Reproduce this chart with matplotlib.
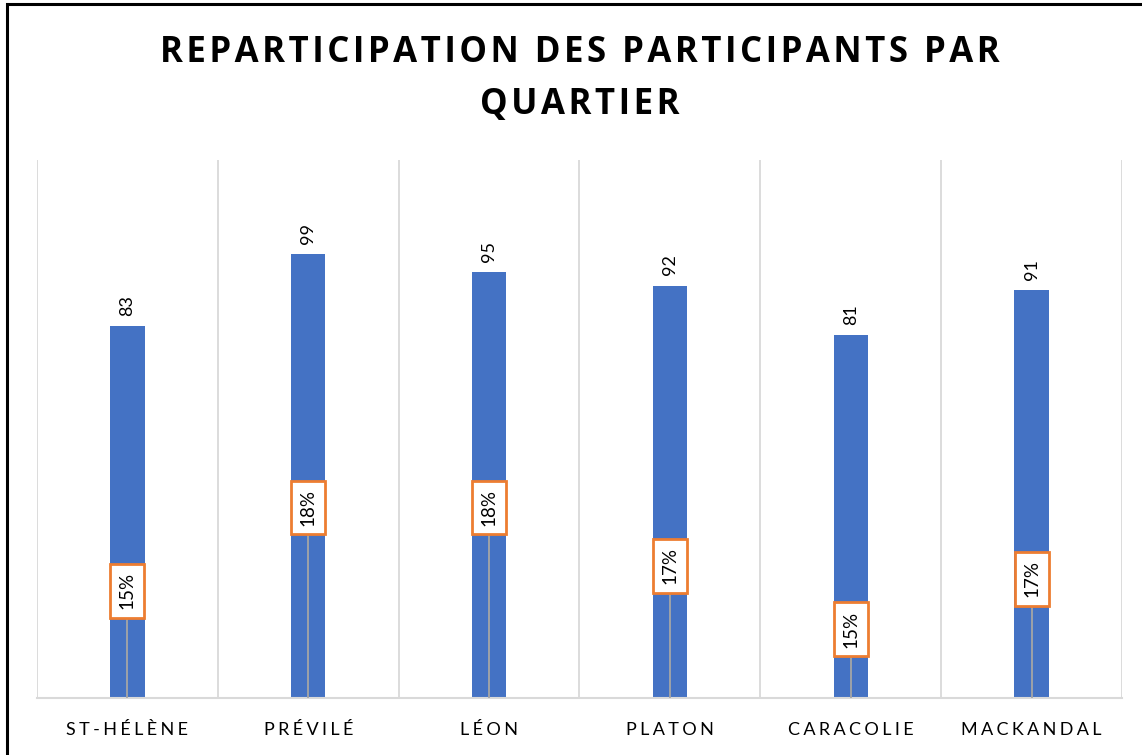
import matplotlib.pyplot as plt
from matplotlib.patches import Rectangle

quartiers = ["St-Hélène", "Prévilé", "Léon", "Platon", "Caracolie", "Mackandal"]
participants = [83, 99, 95, 92, 81, 91]
share_labels = ["15%", "18%", "18%", "17%", "15%", "17%"]
# height of the share marker (hidden point), in chart units
share_marker_y = [23.9, 42.5, 42.5, 29.5, 15.4, 26.6]

BLUE = "#4472C4"
ORANGE = "#ED7D31"
GRID = "#D9D9D9"
FONT = ["Lato", "DejaVu Sans"]


def spaced(s, sep="\u2009"):
    return sep.join(s.upper())


fig = plt.figure(figsize=(11.42, 7.55), dpi=100)
ax = fig.add_axes([37 / 1142, 1 - 698 / 755, 1085 / 1142, 538 / 755])

x = list(range(len(quartiers)))
ax.bar(x, participants, width=0.19, color=BLUE, zorder=2)

# value labels above bars
for xi, v in zip(x, participants):
    ax.text(xi, v + 2.3, str(v), rotation=90, ha="center", va="bottom",
            fontsize=13, family=FONT, color="#000000")

# drop lines + share labels
for xi, y, lab in zip(x, share_marker_y, share_labels):
    ax.plot([xi, xi], [0, y], color="#A5A5A5", lw=1.3, zorder=3)
    ax.text(xi, y, lab, rotation=90, ha="center", va="center", fontsize=13.5,
            family=FONT, zorder=4,
            bbox=dict(boxstyle="square,pad=0.45", fc="white", ec=ORANGE, lw=2))

ax.set_xlim(-0.5, len(quartiers) - 0.5)
ax.set_ylim(0, 120)

# category separators
for b in range(len(quartiers) + 1):
    ax.axvline(b - 0.5, color=GRID, lw=1.3, zorder=0)

for side in ["left", "right", "top"]:
    ax.spines[side].set_visible(False)
ax.spines["bottom"].set_color(GRID)
ax.spines["bottom"].set_linewidth(1.5)
ax.set_yticks([])
ax.set_xticks(x)
ax.set_xticklabels([spaced(q, "\u2009\u200a") for q in quartiers], fontsize=13,
                   family=FONT, color="#000000")
ax.tick_params(axis="x", length=0, pad=17)

title_font = ["Open Sans", "DejaVu Sans"]
fig.text(0.508, 1 - 53 / 755, spaced("REPARTICIPATION DES PARTICIPANTS PAR", "\u200a"),
         ha="center", va="center", fontsize=25, fontweight="bold",
         family=title_font)
fig.text(0.508, 1 - 105 / 755, spaced("QUARTIER", "\u200a"), ha="center", va="center",
         fontsize=25, fontweight="bold", family=title_font)

fig.add_artist(Rectangle((6.5 / 1142, -0.1), 1.2, 1 - 4.5 / 755 + 0.1,
                         transform=fig.transFigure, fill=False,
                         ec="black", lw=2.2))

fig.savefig("out.png", dpi=100)
